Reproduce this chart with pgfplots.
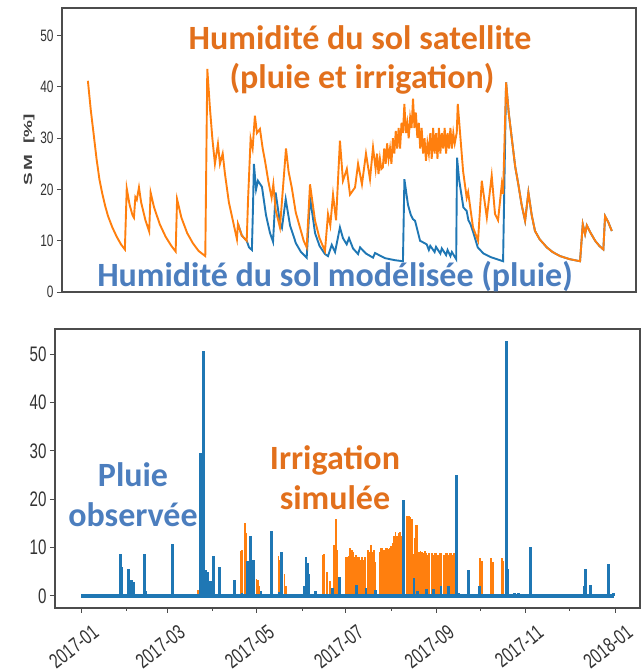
\documentclass[border=0pt]{standalone}
\usepackage{fontspec}
\usepackage{pgfplots}
\pgfplotsset{compat=1.18}
\setmainfont{Liberation Sans}
\newfontfamily\tickfont[FakeStretch=0.72]{Liberation Sans}
\newfontfamily\annot{Carlito}

\definecolor{mplblue}{HTML}{1F77B4}
\definecolor{mplorange}{HTML}{FF7F0E}
\definecolor{txtorange}{RGB}{226,112,28}
\definecolor{txtblue}{RGB}{76,126,190}

% humidite du sol satellite (pluie et irrigation), jour de l'annee 2017
\pgfplotstableread{
day val
0 41.2
2 35.5
4 30.8
6 26
8 22
10 19.2
12 16.8
14 14.8
17 12.6
20 10.8
23 9.3
25.7 8.3
27 20.2
29 17
31 15
32 14.5
33 18.5
34 18
35.5 20.4
37 17.5
40 14
42.6 11.8
43.6 19.4
46 16.5
50 13.2
54 10.8
58 9
61 7.9
62 18.1
65 14.5
69 11.5
73 9.5
77 8
81.6 7.0
83 43.5
84.8 36
86.5 30
88.3 25
90.4 28.9
91.8 25
93.7 27
95.3 23
98 17.5
100.8 13.9
103.6 10.3
104.3 13.3
107 11
110.4 10
111.3 17.8
113.1 29.9
114.5 28
116.1 34.4
117.5 31
119.6 31.8
121.5 28
123.1 25.6
125.5 21.5
127.7 18.4
128.9 21
130.5 16
133.5 12.6
137.7 28
139.5 23.5
141.7 20.4
144.5 15.5
147.4 12.6
150 10
152.1 8.7
154.4 21
157.9 13.9
161 10.5
164.8 8.0
166.9 15.2
168.5 13
170.4 19
172.5 14
175.2 29.5
177.3 21.7
180 24
182.2 19
185.7 20.4
187.8 25
190.5 21
193.3 27
196.1 22
198.2 28.2
200 24
201 27
202 23
203 26
204 24
205 24.3
206 28
207 25
208 29
209 26
210 28
211 25
212 30
213 27
214 31.4
215 28
216 32
217 28
218 33
219 31
220 36.7
221 31
222 33
223 30
224 34
225 32
226 37.7
227 32
228 35
229 30.1
230 33
231 28
232 32
233 27
234 30
235 25.6
236 29
237 27
238 31
239 26
240 32
241 27
242 31
243 26
244 32
245 27
246 31
247 28
248 32
249 27
250 31
251 28
252 32
253 28
254 31
255 29
256.4 31.1
257.1 36.7
260.8 23.6
263.3 18.4
264.3 19.5
267.7 12.6
271.2 10
273.8 21.7
277.3 14.5
280.7 22.7
283 15.2
285.1 14
287.7 21
288.6 19.1
290.7 40.9
292.5 35
294.6 30.1
297 24.5
299.2 21
301.5 17
303.9 13.9
306.2 19.4
308.5 15
310.8 11.9
314 10.3
319 8.7
323 7.8
328.2 7.0
335 6.4
342.1 6.0
344 13.2
345.6 11.3
346.8 13
349.5 11.5
352.6 10
355.5 9
358.3 8.3
359.5 14.8
361.6 13.7
364.2 11.9
}\satellite

% humidite du sol modelisee (pluie seule)
\pgfplotstableread{
day val
104.3 13.3
107 11
110.4 10
112 8.7
114 8.2
114.8 17
115.4 25
116.9 20
118.2 21.7
121 20.5
123.8 15
126.6 11.5
128.7 9.8
130.5 19.4
133.5 13.5
134.9 12.5
137.5 18.1
140.5 13
144.6 9.5
148.1 7.8
152.1 6.7
154.4 18.5
157.9 11.5
161 9
164.8 7.4
166.9 7
169.5 9.2
171.8 7.8
175.2 12.6
177.3 10.5
179.9 9.3
181.5 10.5
184.3 8.5
187.8 7.4
189.2 8.7
193.3 7.5
198.2 6.7
199.6 7.6
206.5 6.6
213.5 6.2
219 6.0
220 22
222.5 17
224.5 15
226 14.2
227.4 13.9
230.9 10
235.5 9.3
237 8.2
238 9
241 7.8
242 8.8
245 7.5
246 8.5
249 7.2
250 8.2
252 7
253 7.8
256 6.4
256.6 26.2
258 22
261 16.5
263.3 15.8
264.5 14
266 13.2
268 11.5
271 8.7
275 7.5
280 6.8
288.6 6.0
290.7 40.9
292.5 35
294.6 30.1
297 24.5
299.2 21
301.5 17
303.9 13.9
306.2 19.4
308.5 15
310.8 11.9
314 10.3
319 8.7
323 7.8
328.2 7.0
335 6.4
342.1 6.0
344 13.2
345.6 11.3
346.8 13
349.5 11.5
352.6 10
355.5 9
358.3 8.3
359.5 14.8
361.6 13.7
364.2 11.9
}\modele

% irrigation simulee (mm)
\pgfplotstableread{
day val
80 1.2
109 9.3
110 9.5
112 15.1
113 13
120 3.5
121 3.3
122 2
135 8.2
136 7.5
139 4.5
140 2
165 8.5
166 8.7
168 5
170 3
173 10.5
174 16
175 9.5
181 8.1
182 8
183 8.3
184 10
185 9.5
186 9
187 8
188 8.5
189 8.1
190 8
191 7.5
192 8
193 7.5
194 8
196 9.5
197 9
198 10.5
199 9
200 9.5
201 7
204 9
205 10
206 10
207 9.5
208 10
209 10
210 9.7
211 10
212 10.3
213 11
214 12.3
215 13.3
216 12.3
217 13
218 13.3
219 12.3
221 13
223 16.5
224 16.5
225 16.4
226 16
227 8.7
228 12
229 14.7
230 14.7
231 9
232 9.3
233 9
234 8.8
235 9.3
236 8.8
237 8.5
238 8.8
240 8.8
241 8.5
242 8.8
243 8.8
244 8.5
245 8.8
246 8.8
248 8.5
249 8.8
250 8.8
251 8.5
252 8.8
253 8.8
254 8.5
255 8.8
256 8.5
272.7 7.8
273.8 7.3
280 7.8
281.5 7
287.5 7.8
288.5 7.3
}\irrigation

% pluie observee (mm)
\pgfplotstableread{
day val
0.7 0.3
5 0.3
9 0.3
13 0.3
26.7 8.7
27.5 6
32.3 5.5
34.6 3.3
35.7 2.8
43.3 8.7
44.2 1
49 0.3
52 0.3
56 0.3
62.4 10.7
66 0.3
70 0.3
81.8 29.6
83.6 50.7
85.4 5.4
86.5 5
88.6 3
90.4 8.3
94.5 5.9
104.6 3.3
110 0.7
114 7.3
115.6 12.4
118 7.5
123 1
130.3 13.4
135.5 0.8
137 9.0
152.5 2
153.7 8
154.5 6.8
155.5 4.6
160 1
171.6 1.7
176.5 4.0
188.4 2.3
194.8 1.7
201 1.2
220.3 19.8
227.5 3.8
230 1
236 1.5
241 1.5
246 2
251 2
256.8 25
258 0.5
264.7 5.4
272.5 2
290.5 52.7
291.7 5.5
296 0.5
299 0.5
307.4 10.2
316 0.3
320 0.3
325 0.3
331 0.3
344 2
344.5 5.5
348.4 2.3
360.4 6.6
363.9 0.5
}\pluie

\pgfplotsset{
  mystyle/.style={
    scale only axis,
    anchor=south west,
    tick align=outside,
    ytick pos=left,
    xtick pos=bottom,
    major tick length=5pt,
    minor tick length=3pt,
    axis line style={black!70, line width=1.2pt},
    every tick/.style={black!70, line width=0.9pt},
    ytick={0,10,20,30,40,50},
    /pgf/number format/assume math mode=true,
    ticklabel style={text=black!80},
  }
}

\begin{document}
\begin{tikzpicture}
\useasboundingbox (0pt,0pt) rectangle (641pt,672pt);

% --- haut : humidite du sol
\begin{axis}[mystyle,
  at={(62pt,380pt)}, width=574pt, height=284pt,
  xmin=-18, xmax=381, ymin=0, ymax=55.4,
  xtick=\empty,
  yticklabel style={font=\tickfont\fontsize{16.5}{17}\selectfont},
]
\addplot[mplblue, line width=1.9pt] table[x=day, y=val] {\modele};
\addplot[mplorange, line width=1.9pt] table[x=day, y=val] {\satellite};
\end{axis}

\node[rotate=90, text=black!75] at (29pt,522pt)
  {\scalebox{1}[0.62]{\bfseries\fontsize{19}{20}\selectfont S\,M\ \ [\%]}};

% --- bas : pluie et irrigation
\begin{axis}[mystyle,
  at={(55pt,64pt)}, width=585pt, height=279pt,
  xmin=-17.8, xmax=382, ymin=-2.5, ymax=55.2,
  xtick={0,59,120,181,243,304,365},
  xticklabels={2017-01,2017-03,2017-05,2017-07,2017-09,2017-11,2018-01},
  minor xtick={31,90,151,212,273,334},
  ticklabel style={font=\tickfont\fontsize{21}{22}\selectfont},
  xticklabel style={rotate=38, anchor=north east, inner sep=1.5pt,
    yshift=-13pt, xshift=3pt},
]
\addplot[ycomb, mplorange, line width=1.7pt] table[x=day, y=val] {\irrigation};
\addplot[ycomb, mplblue, line width=2.8pt] table[x=day, y=val] {\pluie};
\addplot[mplblue, line width=3.4pt] coordinates {(0,0) (364,0)};
\end{axis}

% --- annotations
\begin{scope}[every node/.style={anchor=base, inner sep=0pt,
    font=\annot\bfseries\fontsize{34}{40}\selectfont}]
\node[text=txtorange] at (360pt,622pt) {Humidité du sol satellite};
\node[text=txtorange] at (362pt,583pt) {(pluie et irrigation)};
\node[text=txtblue] at (335pt,385pt) {Humidité du sol modélisée (pluie)};
\node[text=txtblue] at (133pt,185pt) {Pluie};
\node[text=txtblue] at (133pt,145pt) {observée};
\node[text=txtorange] at (335pt,202pt) {Irrigation};
\node[text=txtorange] at (335pt,162pt) {simulée};
\end{scope}
\end{tikzpicture}
\end{document}
